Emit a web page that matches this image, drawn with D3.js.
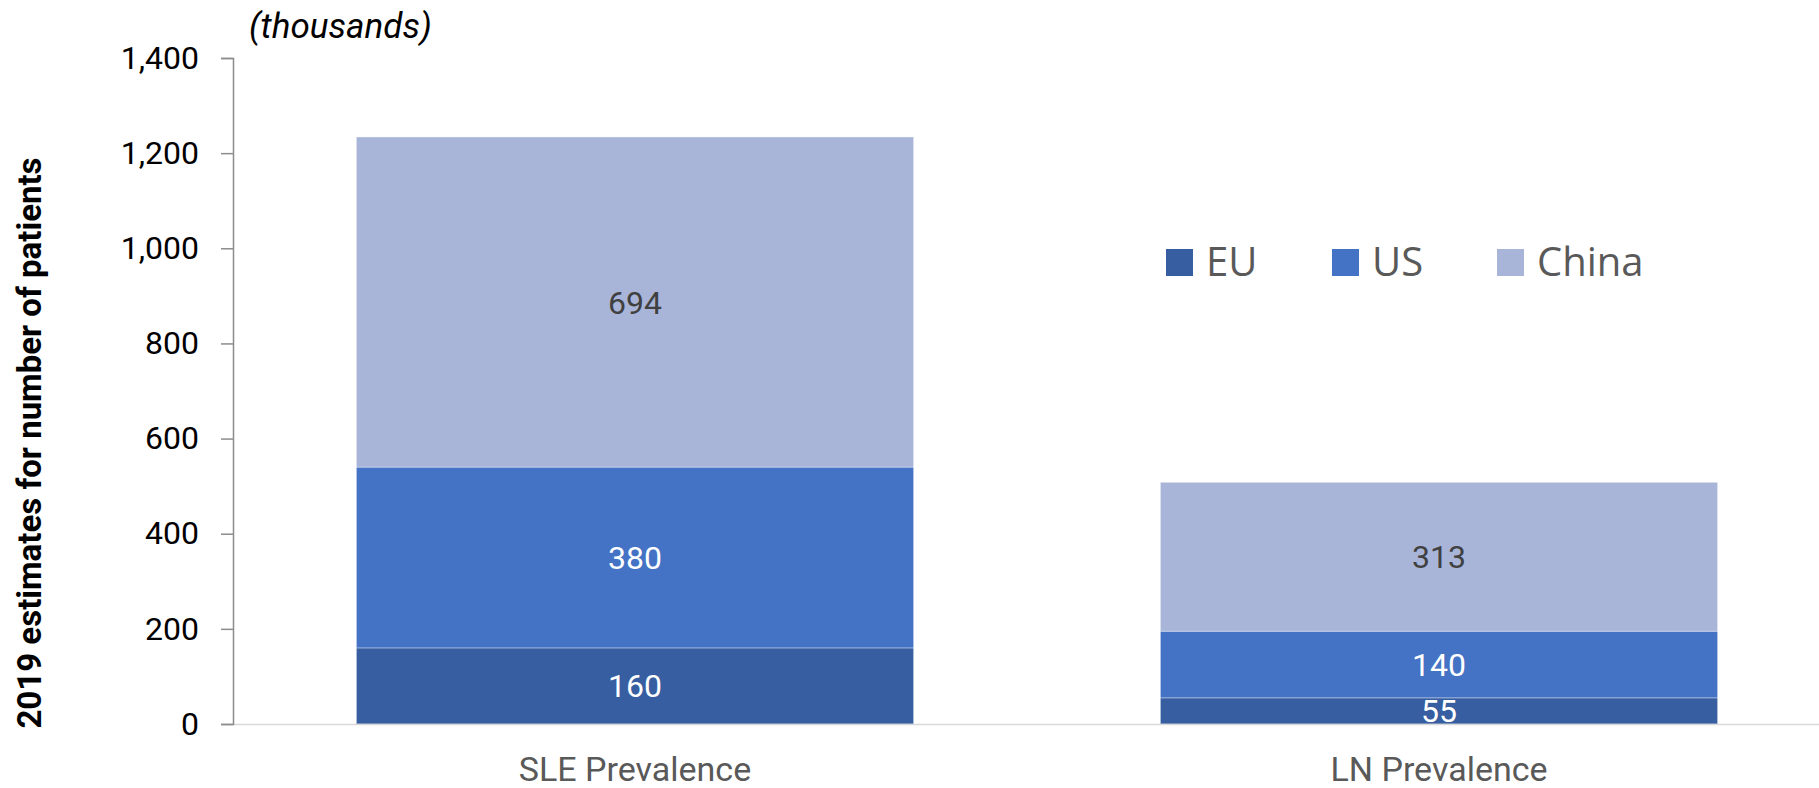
<!DOCTYPE html>
<html><head><meta charset="utf-8">
<script src="https://cdn.jsdelivr.net/npm/d3@7"></script>
<style>body{margin:0;background:#fff}svg{display:block}</style>
</head><body>
<svg id="chart" width="1819" height="788"></svg>
<script>
const categories = ["SLE Prevalence", "LN Prevalence"];
const seriesNames = ["EU", "US", "China"];
const euValues = [160, 55];
const usValues = [380, 140];
const chinaValues = [694, 313];
const yTicks = [0, 200, 400, 600, 800, 1000, 1200, 1400];
const colors = {EU: "#365ea1", US: "#4472c4", China: "#a8b5d9"};
const labelColors = {EU: "#ffffff", US: "#ffffff", China: "#404040"};

const svg = d3.select("#chart");
const x0 = 233, y0 = 724, yTop = 58;

const x = d3.scaleBand().domain(categories).range([x0, 1841]).paddingInner(0.307).paddingOuter(0.1535);
const y = d3.scaleLinear().domain([0, 1400]).range([y0, yTop]);

const rows = categories.map((c, i) => ({cat: c, EU: euValues[i], US: usValues[i], China: chinaValues[i]}));
const stacked = d3.stack().keys(seriesNames)(rows);

// bars
stacked.forEach(layer => {
  const g = svg.append("g");
  g.selectAll("rect").data(layer).join("rect")
    .attr("x", d => x(d.data.cat))
    .attr("width", x.bandwidth())
    .attr("y", d => y(d[1]))
    .attr("height", d => y(d[0]) - y(d[1]))
    .attr("fill", colors[layer.key])
    .attr("stroke", "#ffffff").attr("stroke-opacity", 0.35).attr("stroke-width", 1);
  g.selectAll("text").data(layer).join("text")
    .attr("x", d => x(d.data.cat) + x.bandwidth() / 2)
    .attr("y", d => (y(d[0]) + y(d[1])) / 2)
    .attr("dy", "0.36em")
    .attr("text-anchor", "middle")
    .attr("font-family", "Roboto")
    .attr("font-size", 32)
    .attr("fill", labelColors[layer.key])
    .text(d => d.data[layer.key]);
});

// x baseline
svg.append("line").attr("x1", x0).attr("x2", 1819).attr("y1", y0 + 0.5).attr("y2", y0 + 0.5)
  .attr("stroke", "#d9d9d9").attr("stroke-width", 1.5);

// y axis
const yAxis = d3.axisLeft(y).tickValues(yTicks).tickSize(12).tickPadding(22).tickFormat(d3.format(","));
const ya = svg.append("g").attr("transform", `translate(${x0},0)`).call(yAxis);
ya.select(".domain").attr("stroke", "#8c8c8c").attr("stroke-width", 1.5);
ya.selectAll(".tick line").attr("stroke", "#8c8c8c").attr("stroke-width", 1.5);
ya.selectAll(".tick text").attr("font-family", "Roboto").attr("font-size", 32).attr("fill", "#000");

// x category labels
svg.append("g").selectAll("text").data(categories).join("text")
  .attr("x", d => x(d) + x.bandwidth() / 2)
  .attr("y", 781)
  .attr("text-anchor", "middle")
  .attr("font-family", "Roboto").attr("font-size", 34).attr("fill", "#595959")
  .text(d => d);

// y title
svg.append("text")
  .attr("transform", "translate(41,443) rotate(-90)")
  .attr("text-anchor", "middle")
  .attr("font-family", "Roboto").attr("font-weight", "bold").attr("font-size", 33).attr("fill", "#000")
  .text("2019 estimates for number of patients");

// units note
svg.append("text").attr("x", 249).attr("y", 38)
  .attr("font-family", "Roboto").attr("font-style", "italic").attr("font-size", 35).attr("fill", "#000")
  .text("(thousands)");

// legend
const legendX = [1166, 1332, 1497];
const lg = svg.append("g");
seriesNames.forEach((s, i) => {
  lg.append("rect").attr("x", legendX[i]).attr("y", 249).attr("width", 27).attr("height", 27).attr("fill", colors[s]);
  lg.append("text").attr("x", legendX[i] + 40).attr("y", 276)
    .attr("font-family", "Open Sans").attr("font-size", 40).attr("fill", "#595959").text(s);
});
</script>
</body></html>
